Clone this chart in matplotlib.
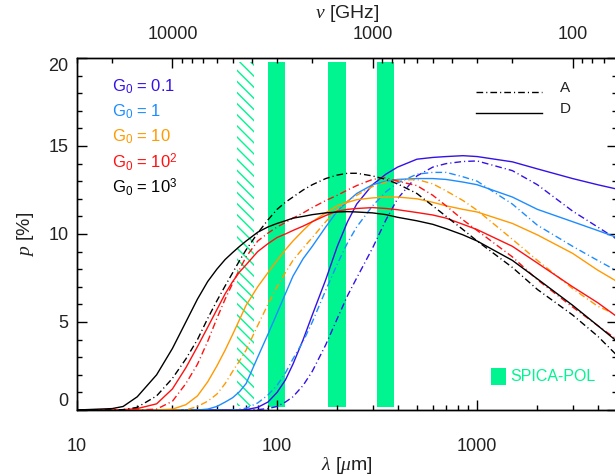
import numpy as np
import matplotlib
matplotlib.use("Agg")
import matplotlib.pyplot as plt
from matplotlib.ticker import FixedLocator, LogLocator, MultipleLocator, FuncFormatter, NullFormatter

# ---------------- data ----------------
wavelength = [10, 15, 17, 20, 25, 30, 35, 40, 45, 50, 55, 60, 65, 70, 80, 90, 100, 110, 120,
              135, 150, 175, 200, 225, 250, 300, 350, 400, 500, 600, 700, 850, 1000,
              1500, 2000, 3000, 4000, 5000]

# model D (solid lines)
p_D_g0_01 = [0, 0, 0, 0, 0, 0, 0, 0, 0, 0, 0, 0, 0, 0.02, 0.15, 0.45, 1.0, 1.7, 2.6,
             4.0, 5.4, 7.4, 9.3, 10.7, 11.7, 12.8, 13.4, 13.8, 14.25, 14.35, 14.4, 14.45, 14.4,
             14.1, 13.7, 13.15, 12.8, 12.55]
p_D_g0_1 = [0, 0, 0, 0, 0, 0, 0, 0, 0.05, 0.2, 0.45, 0.7, 1.05, 1.5, 3.0, 4.3, 5.5, 6.6, 7.6,
            8.6, 9.3, 10.4, 11.3, 11.85, 12.3, 12.8, 13.0, 13.1, 13.15, 13.15, 13.1, 12.95, 12.8,
            12.1, 11.4, 10.7, 10.2, 9.8]
p_D_g0_10 = [0, 0, 0, 0, 0, 0.05, 0.3, 0.8, 1.6, 2.5, 3.4, 4.3, 5.15, 5.95, 7.0, 7.8, 8.5, 9.1, 9.6,
             10.2, 10.7, 11.2, 11.6, 11.8, 11.95, 12.05, 12.1, 12.1, 12.0, 11.8, 11.6, 11.4, 11.25,
             10.6, 9.95, 8.9, 7.95, 7.3]
p_D_g0_100 = [0, 0, 0.02, 0.08, 0.35, 1.2, 2.4, 3.6, 4.7, 5.7, 6.6, 7.3, 7.85, 8.25, 9.0, 9.45, 9.8, 10.0, 10.2,
              10.45, 10.7, 11.05, 11.3, 11.4, 11.45, 11.5, 11.45, 11.38, 11.22, 11.08, 10.9, 10.55, 10.25,
              9.3, 8.35, 7.0, 6.1, 5.3]
p_D_g0_1000 = [0, 0.08, 0.2, 0.75, 2.0, 3.5, 5.0, 6.3, 7.3, 8.0, 8.55, 8.95, 9.3, 9.6, 10.1, 10.4, 10.6, 10.75, 10.9,
               11.0, 11.1, 11.2, 11.25, 11.27, 11.25, 11.2, 11.1, 10.95, 10.75, 10.55, 10.3, 9.95, 9.6,
               8.5, 7.45, 5.95, 4.8, 3.9]

# model A (dash-dot lines)
p_A_g0_01 = [0, 0, 0, 0, 0, 0, 0, 0, 0, 0, 0, 0, 0, 0, 0.02, 0.08, 0.2, 0.45, 0.75,
             1.4, 2.2, 3.7, 5.2, 6.5, 7.5, 9.2, 10.8, 12.0, 13.3, 13.8, 14.0, 14.12, 14.15,
             13.6, 12.8, 11.3, 10.4, 9.7]
p_A_g0_1 = [0, 0, 0, 0, 0, 0, 0, 0, 0, 0, 0, 0, 0.05, 0.1, 0.4, 0.85, 1.4, 2.1, 2.9,
            3.9, 5.0, 6.8, 8.3, 9.5, 10.4, 11.6, 12.4, 12.9, 13.4, 13.5, 13.5, 13.25, 13.0,
            11.7, 10.5, 9.3, 8.5, 7.9]
p_A_g0_10 = [0, 0, 0, 0, 0, 0, 0, 0.2, 0.5, 0.9, 1.5, 2.2, 2.8, 3.4, 4.8, 6.0, 7.0, 7.8, 8.5,
             9.2, 9.8, 10.7, 11.4, 11.85, 12.2, 12.7, 12.95, 13.05, 13.1, 12.85, 12.45, 11.9, 11.35,
             9.7, 8.5, 6.9, 5.9, 5.4]
p_A_g0_100 = [0, 0, 0, 0, 0.05, 0.5, 1.5, 2.6, 3.9, 5.2, 6.3, 7.2, 8.0, 8.7, 9.6, 10.05, 10.4, 10.65, 10.9,
              11.2, 11.5, 11.9, 12.2, 12.5, 12.75, 13.1, 13.2, 13.0, 12.75, 12.2, 11.6, 10.8, 10.2,
              8.7, 7.4, 5.85, 4.8, 4.0]
p_A_g0_1000 = [0, 0, 0.02, 0.15, 0.8, 1.8, 2.9, 4.0, 5.2, 6.2, 7.05, 7.8, 8.5, 9.1, 10.05, 10.8, 11.4, 11.8, 12.1,
               12.5, 12.8, 13.15, 13.35, 13.45, 13.45, 13.3, 13.1, 12.85, 12.3, 11.6, 11.0, 10.25, 9.6,
               8.1, 6.85, 5.4, 4.2, 3.1]

g0_labels = [r"G$_\mathrm{0}$ = 0.1", r"G$_\mathrm{0}$ = 1", r"G$_\mathrm{0}$ = 10",
             r"G$_\mathrm{0}$ = 10$^\mathrm{2}$", r"G$_\mathrm{0}$ = 10$^\mathrm{3}$"]
g0_colors = ["#3511E8", "#1E8CFF", "#FF9A00", "#FF1111", "#000000"]
series_D = [p_D_g0_01, p_D_g0_1, p_D_g0_10, p_D_g0_100, p_D_g0_1000]
series_A = [p_A_g0_01, p_A_g0_1, p_A_g0_10, p_A_g0_100, p_A_g0_1000]

spica_bands = [100, 200, 350]     # µm, +-10%
hatched_band = 70                 # µm, +-10%
band_frac = 0.10

xtick_major = [10, 100, 1000]
nu_tick_major = [10000, 1000, 100]
ytick_major = [0, 5, 10, 15, 20]

# ---------------- style ----------------
plt.rcParams["font.family"] = ["Liberation Sans", "DejaVu Sans"]
plt.rcParams["mathtext.fontset"] = "custom"
plt.rcParams["mathtext.rm"] = "Liberation Sans"
plt.rcParams["mathtext.it"] = "Liberation Serif:italic"
plt.rcParams["mathtext.bf"] = "Liberation Sans:bold"
plt.rcParams["hatch.linewidth"] = 1.0

green = "#00F590"
W, H = 615, 475
fig = plt.figure(figsize=(W / 100, H / 100), dpi=100)
ax = fig.add_axes([77 / W, 65 / H, 540 / W, 352 / H])

ax.set_xscale("log")
ax.set_xlim(10, 5000)
ax.set_ylim(0, 20)

# SPICA-POL bands
for c in spica_bands:
    ax.axvspan(c * (1 - band_frac), c * (1 + band_frac), ymin=0.009, ymax=0.99,
               facecolor=green, edgecolor="none", zorder=1)
ax.axvspan(hatched_band * (1 - band_frac), hatched_band * (1 + band_frac), ymin=0.012, ymax=0.99,
           facecolor="none", edgecolor=green, hatch="\\\\\\", linewidth=0, zorder=1)

dashdot = (4.8, 2.2, 0.8, 2.2)
for pD, pA, col in zip(series_D, series_A, g0_colors):
    ax.plot(wavelength, pD, color=col, lw=1.0, zorder=3)
    ax.plot(wavelength, pA, color=col, lw=1.0, dashes=dashdot, zorder=3)

# ticks
ax.xaxis.set_major_locator(FixedLocator(xtick_major))
ax.xaxis.set_minor_locator(LogLocator(base=10, subs=np.arange(2, 10)))
ax.xaxis.set_major_formatter(FuncFormatter(lambda v, p: f"{v:g}"))
ax.xaxis.set_minor_formatter(NullFormatter())
ax.yaxis.set_major_locator(FixedLocator(ytick_major))
ax.yaxis.set_minor_locator(MultipleLocator(1))
ax.tick_params(which="both", direction="in", top=False, right=True, width=1.0, colors="black",
               labelcolor="#222222")
ax.tick_params(which="major", length=7.5, labelsize=13)
ax.tick_params(which="minor", length=3.8)
ax.tick_params(axis="x", which="major", pad=20)
ax.tick_params(axis="y", which="major", pad=6)

ax2 = ax.twiny()
ax2.set_xscale("log")
ax2.set_xlim(3e5 / 10, 3e5 / 5000)
ax2.xaxis.set_major_locator(FixedLocator(nu_tick_major))
ax2.xaxis.set_minor_locator(LogLocator(base=10, subs=np.arange(2, 10)))
ax2.xaxis.set_major_formatter(FuncFormatter(lambda v, p: f"{v:g}"))
ax2.xaxis.set_minor_formatter(NullFormatter())
ax2.tick_params(which="both", direction="in", width=1.0, labelcolor="#222222")
ax2.tick_params(which="major", length=7.5, labelsize=13, pad=11)
ax2.tick_params(which="minor", length=3.8)

for a in (ax, ax2):
    for s in a.spines.values():
        s.set_linewidth(1.0)

# axis labels
fig.text(347 / W, 1 - 14 / H, r"$\nu$ [GHz]", ha="center", va="center", fontsize=14, color="#222222")
fig.text(347 / W, 1 - 466 / H, r"$\lambda$ [$\mu$m]", ha="center", va="center", fontsize=14, color="#222222")
fig.text(25 / W, 1 - 234 / H, r"$p$ [%]", ha="center", va="center", rotation=90, fontsize=14, color="#222222")

# G0 legend
ys = [0.918, 0.846, 0.776, 0.705, 0.634]
for lab, col, yy in zip(g0_labels, g0_colors, ys):
    ax.text(0.065, yy, lab, color=col, fontsize=12, transform=ax.transAxes, ha="left", va="center", zorder=5)

# model legend
ax.plot([0.739, 0.861], [0.903, 0.903], transform=ax.transAxes, color="black", lw=1.0, dashes=dashdot)
ax.plot([0.739, 0.861], [0.844, 0.844], transform=ax.transAxes, color="black", lw=1.0)
ax.text(0.894, 0.915, "A", transform=ax.transAxes, fontsize=11, color="#222222", ha="left", va="center")
ax.text(0.894, 0.855, "D", transform=ax.transAxes, fontsize=11, color="#222222", ha="left", va="center")

# SPICA-POL legend
ax.add_patch(plt.Rectangle((0.766, 0.072), 0.029, 0.046, transform=ax.transAxes,
                           facecolor=green, edgecolor="none", zorder=5))
ax.text(0.802, 0.094, "SPICA-POL", transform=ax.transAxes, fontsize=11.5, color=green,
        ha="left", va="center", zorder=5)

# end y labels sit inside the axis range, as in the original
fig.canvas.draw()
ylabs = ax.get_yticklabels()
ylabs[0].set_verticalalignment("bottom")
ylabs[-1].set_verticalalignment("top")

fig.savefig("out.png", dpi=100)
